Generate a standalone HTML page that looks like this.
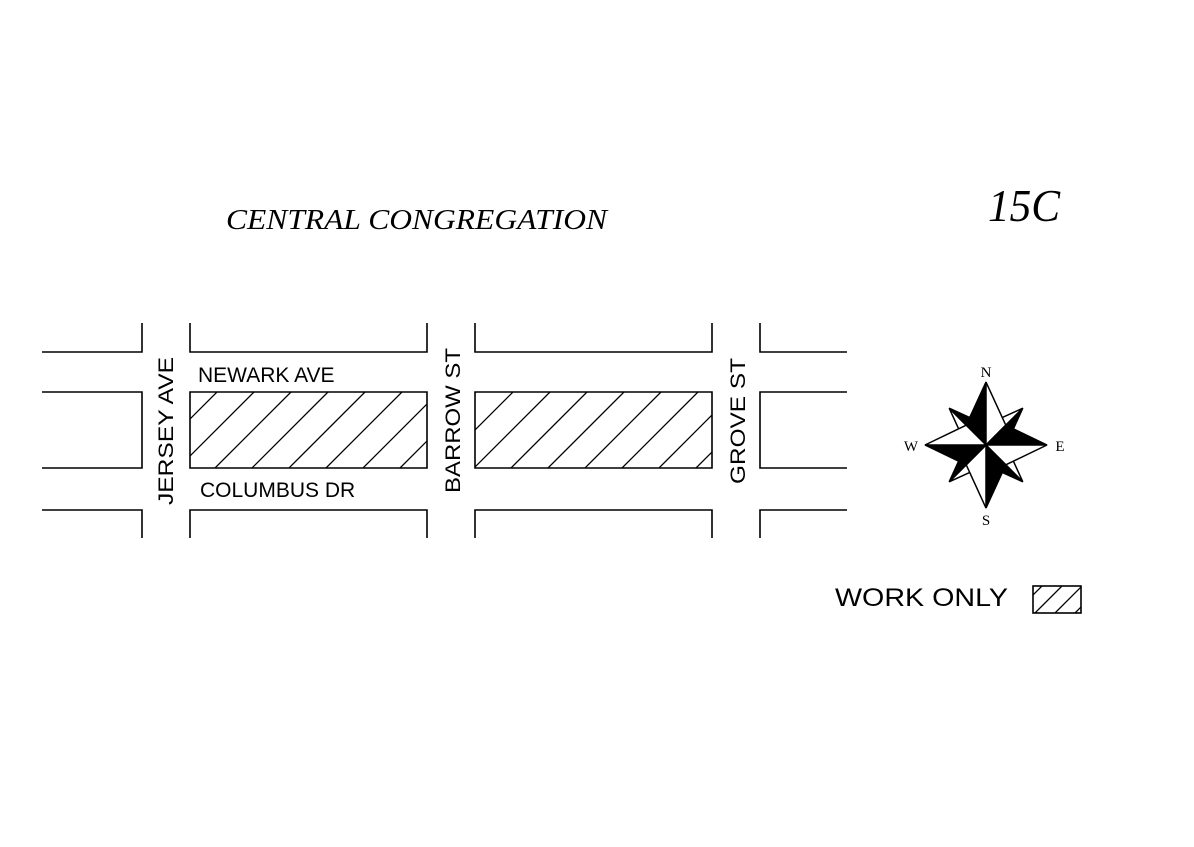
<!DOCTYPE html>
<html><head><meta charset="utf-8"><style>html,body{margin:0;padding:0;background:#fff}svg{display:block}</style></head>
<body>
<svg width="1194" height="847" viewBox="0 0 1194 847" xmlns="http://www.w3.org/2000/svg">
<defs>
<clipPath id="c1"><rect x="190" y="392" width="237" height="76"/></clipPath>
<clipPath id="c2"><rect x="475" y="392" width="237" height="76"/></clipPath>
<clipPath id="c3"><rect x="1033" y="586" width="48" height="27"/></clipPath>
</defs>
<g fill="none" stroke="#000" stroke-width="1.6">
<path d="M42 352H142V323 M190 323V352H427V323 M475 323V352H712V323 M760 323V352H847"/>
<path d="M42 392H142V468H42 M190 392H427V468H190Z M475 392H712V468H475Z M847 392H760V468H847"/>
<path d="M42 510H142V538 M190 538V510H427V538 M475 538V510H712V538 M760 538V510H847"/>
</g>
<g stroke="#000" stroke-width="1.3">
<g clip-path="url(#c1)">
<path d="M141 468L217 392 M178 468L254 392 M215 468L291 392 M252 468L328 392 M289 468L365 392 M326 468L402 392 M363 468L439 392 M400 468L476 392"/>
</g>
<g clip-path="url(#c2)">
<path d="M400 468L476 392 M437 468L513 392 M474 468L550 392 M511 468L587 392 M548 468L624 392 M585 468L661 392 M622 468L698 392 M659 468L735 392 M696 468L772 392"/>
</g>
<g clip-path="url(#c3)">
<path d="M1015 613L1042 586 M1035 613L1062 586 M1055 613L1082 586 M1075 613L1102 586"/>
</g>
</g>
<rect x="1033" y="586" width="48" height="27" fill="none" stroke="#000" stroke-width="1.6"/>
<g font-family="Liberation Sans, sans-serif" font-size="21" fill="#000">
<text x="198" y="382">NEWARK AVE</text>
<text x="200" y="497">COLUMBUS DR</text>
<text transform="translate(173,505) rotate(-90)" textLength="148" lengthAdjust="spacingAndGlyphs">JERSEY AVE</text>
<text transform="translate(460,493) rotate(-90)" textLength="145" lengthAdjust="spacingAndGlyphs">BARROW ST</text>
<text transform="translate(745,484) rotate(-90)" textLength="126" lengthAdjust="spacingAndGlyphs">GROVE ST</text>
<text x="835" y="606" font-size="25" textLength="173" lengthAdjust="spacingAndGlyphs">WORK ONLY</text>
</g>
<text x="226" y="229" font-family="Liberation Serif, serif" font-style="italic" font-size="29" textLength="381" lengthAdjust="spacingAndGlyphs">CENTRAL  CONGREGATION</text>
<text x="988" y="221" font-family="Liberation Serif, serif" font-style="italic" font-size="46" textLength="72" lengthAdjust="spacingAndGlyphs">15C</text>
<g stroke="#000" stroke-width="1.5" stroke-linejoin="miter">
<polygon points="986,445 1022.8,408.2 986,425" fill="#fff"/>
<polygon points="986,445 1022.8,408.2 1006,445" fill="#000"/>
<polygon points="986,445 1022.8,481.8 1006,445" fill="#fff"/>
<polygon points="986,445 1022.8,481.8 986,465" fill="#000"/>
<polygon points="986,445 949.2,481.8 986,465" fill="#fff"/>
<polygon points="986,445 949.2,481.8 966,445" fill="#000"/>
<polygon points="986,445 949.2,408.2 966,445" fill="#fff"/>
<polygon points="986,445 949.2,408.2 986,425" fill="#000"/>
<polygon points="986,445 986,382 966.2,425.2" fill="#000"/>
<polygon points="986,445 986,382 1005.8,425.2" fill="#fff"/>
<polygon points="986,445 1047,445 1005.8,425.2" fill="#000"/>
<polygon points="986,445 1047,445 1005.8,464.8" fill="#fff"/>
<polygon points="986,445 986,508 1005.8,464.8" fill="#000"/>
<polygon points="986,445 986,508 966.2,464.8" fill="#fff"/>
<polygon points="986,445 925,445 966.2,464.8" fill="#000"/>
<polygon points="986,445 925,445 966.2,425.2" fill="#fff"/>
<g font-family="Liberation Serif, serif" font-size="15" fill="#000" stroke="none" text-anchor="middle">
<text x="986" y="377">N</text>
<text x="986" y="525">S</text>
<text x="911" y="451">W</text>
<text x="1060" y="451">E</text>
</g>
</g>
</svg>
</body></html>
